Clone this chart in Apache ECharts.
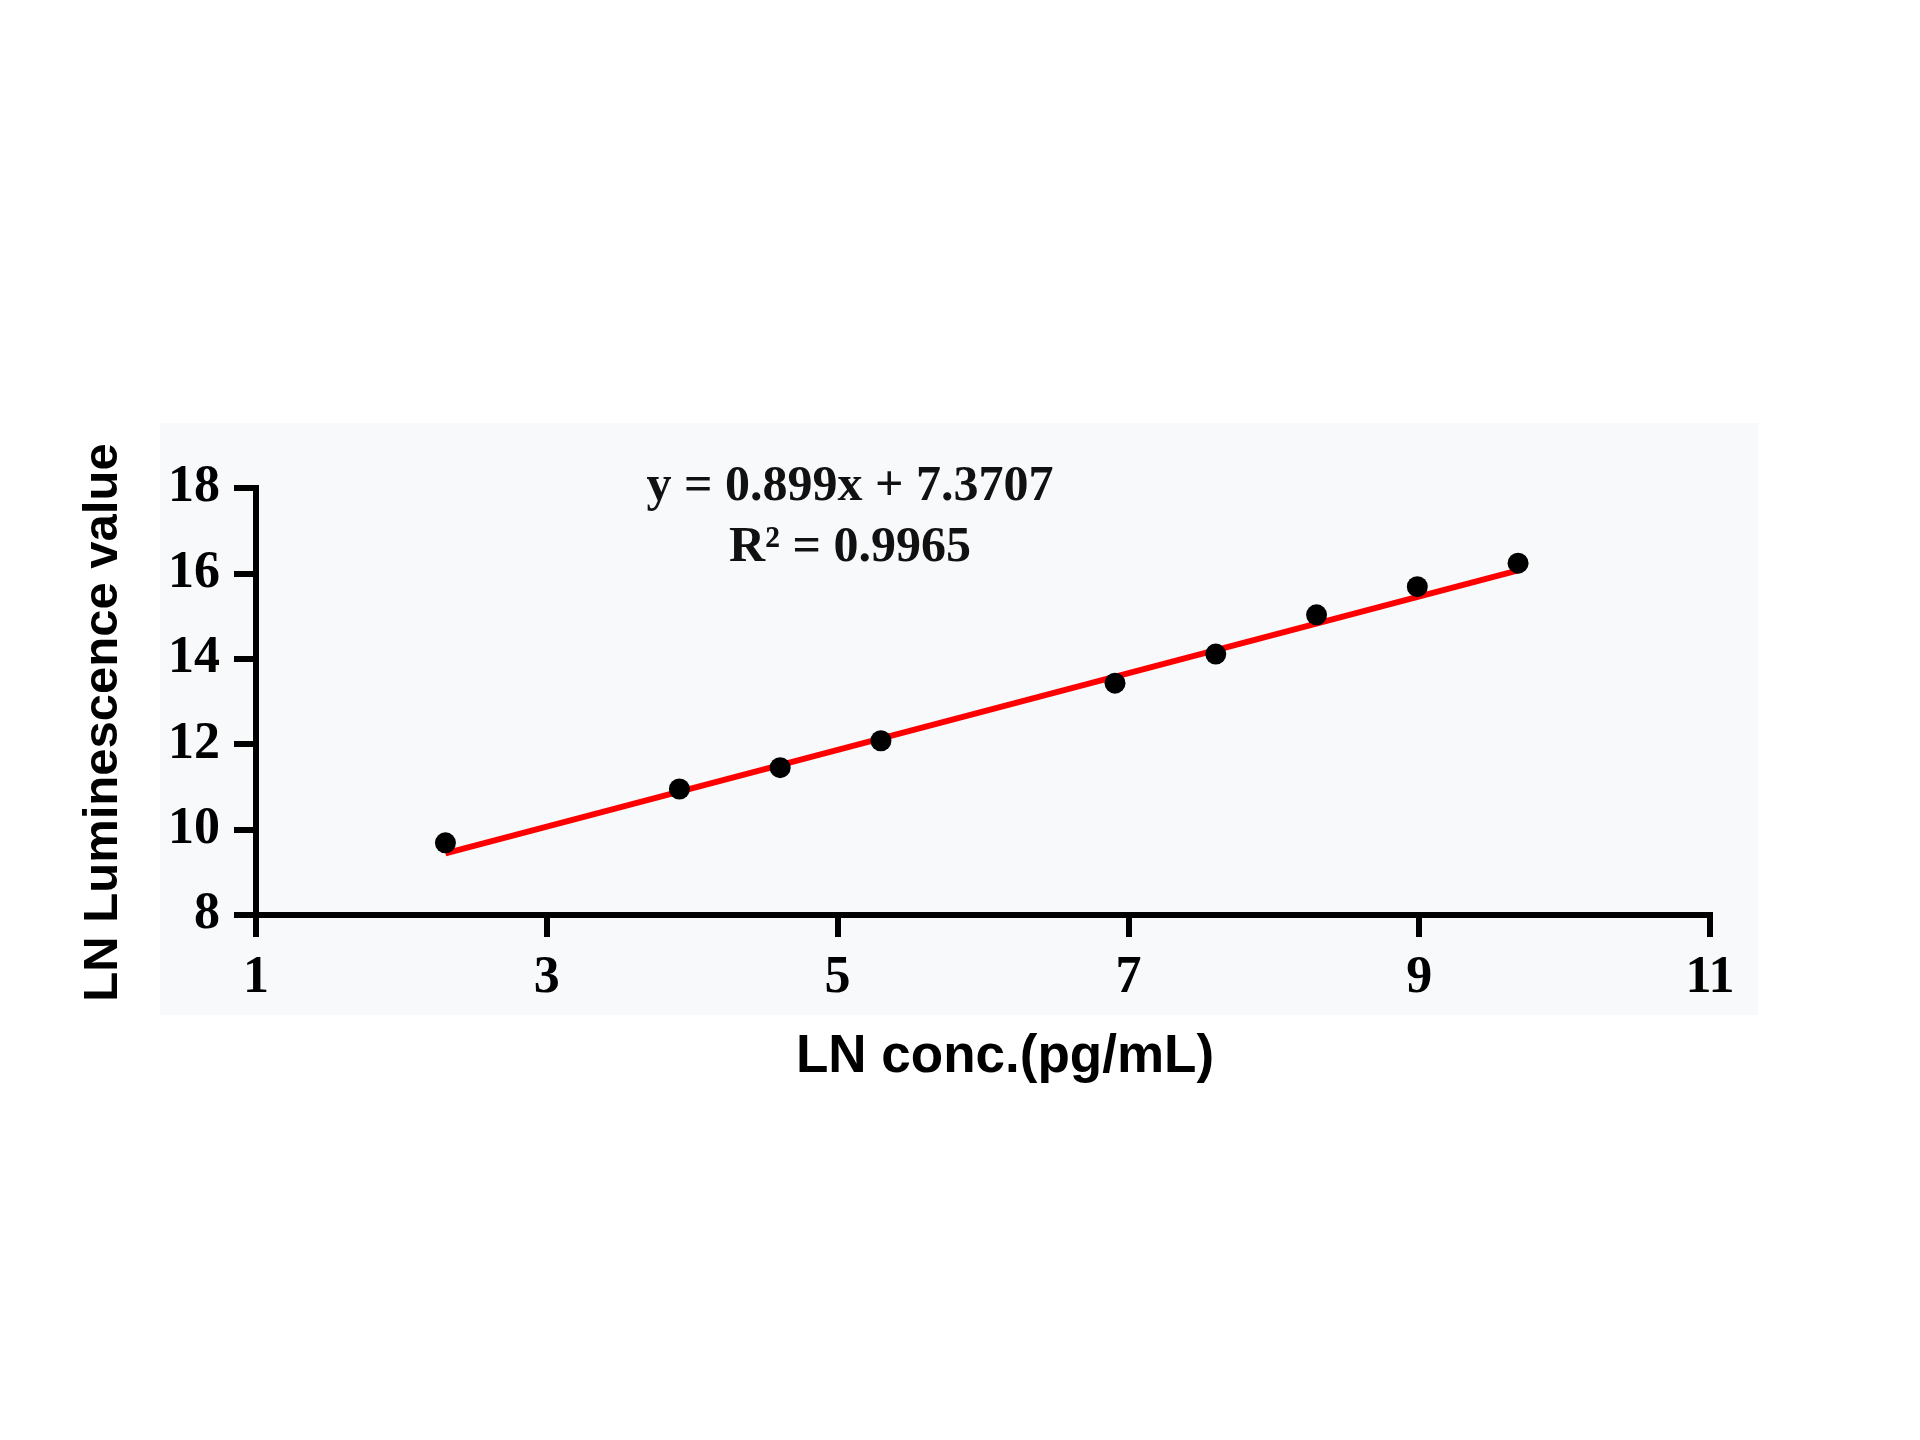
<!DOCTYPE html>
<html>
<head>
<meta charset="utf-8">
<script src="https://cdn.jsdelivr.net/npm/echarts@6/dist/echarts.min.js"></script>
<style>
html,body{margin:0;padding:0;background:#ffffff;}
#chart{width:1920px;height:1440px;}
</style>
</head>
<body>
<div id="chart"></div>
<script>
// Data
var lnConc = [2.303, 3.912, 4.605, 5.298, 6.908, 7.601, 8.294, 8.987, 9.680];
var lnLum  = [9.69, 10.95, 11.45, 12.08, 13.43, 14.11, 15.03, 15.69, 16.24];
var fitSlope = 0.899;
var fitIntercept = 7.3707;
var fitText = ['y = 0.899x + 7.3707', 'R\u00B2 = 0.9965'];
var xTitle = 'LN conc.(pg/mL)';
var yTitle = 'LN Luminescence value';

var points = lnConc.map(function (x, i) { return [x, lnLum[i]]; });
var xMin = Math.min.apply(null, lnConc), xMax = Math.max.apply(null, lnConc);
var fitLine = [[xMin, fitSlope * xMin + fitIntercept], [xMax, fitSlope * xMax + fitIntercept]];

var serif = '"Liberation Serif", "Times New Roman", serif';
var sans = '"Liberation Sans", Arial, Helvetica, sans-serif';

var chart = echarts.init(document.getElementById('chart'), null, {renderer: 'canvas'});
chart.setOption({
  backgroundColor: '#ffffff',
  animation: false,
  graphic: [
    {type: 'rect', z: -10, silent: true, shape: {x: 160, y: 423, width: 1598, height: 592}, style: {fill: '#f8f9fb'}},
    {type: 'text', z: 10, x: 850, y: 487, style: {text: fitText[0], font: 'bold 50px ' + serif, fill: '#111', align: 'center', verticalAlign: 'middle'}},
    {type: 'text', z: 10, x: 850, y: 548, style: {text: fitText[1], font: 'bold 50px ' + serif, fill: '#111', align: 'center', verticalAlign: 'middle'}}
  ],
  grid: {left: 256, right: 210, top: 488, bottom: 525, containLabel: false},
  xAxis: {
    type: 'value', min: 1, max: 11, interval: 2,
    name: xTitle, nameLocation: 'middle', nameGap: 116,
    nameTextStyle: {fontFamily: sans, fontWeight: 'bold', fontSize: 53, color: '#000', padding: [0, 0, 0, 44]},
    axisLine: {show: true, onZero: false, lineStyle: {color: '#000', width: 6, cap: 'square'}},
    axisTick: {show: true, inside: false, length: 22, lineStyle: {color: '#000', width: 6}},
    axisLabel: {fontFamily: serif, fontWeight: 'bold', fontSize: 52, color: '#000', margin: 38},
    splitLine: {show: false}
  },
  yAxis: {
    type: 'value', min: 8, max: 18, interval: 2,
    name: yTitle, nameLocation: 'middle', nameGap: 128,
    nameTextStyle: {fontFamily: sans, fontWeight: 'bold', fontSize: 49, color: '#000', padding: [0, 42, 0, 0]},
    axisLine: {show: true, onZero: false, lineStyle: {color: '#000', width: 6, cap: 'square'}},
    axisTick: {show: true, inside: false, length: 22, lineStyle: {color: '#000', width: 6}},
    axisLabel: {fontFamily: serif, fontWeight: 'bold', fontSize: 52, color: '#000', margin: 36},
    splitLine: {show: false}
  },
  series: [
    {
      type: 'line', data: fitLine, symbol: 'none', z: 2,
      lineStyle: {color: '#ff0000', width: 6}
    },
    {
      type: 'scatter', data: points, symbol: 'circle', symbolSize: 21, z: 3,
      itemStyle: {color: '#000000', opacity: 1}
    }
  ]
});
</script>
</body>
</html>
